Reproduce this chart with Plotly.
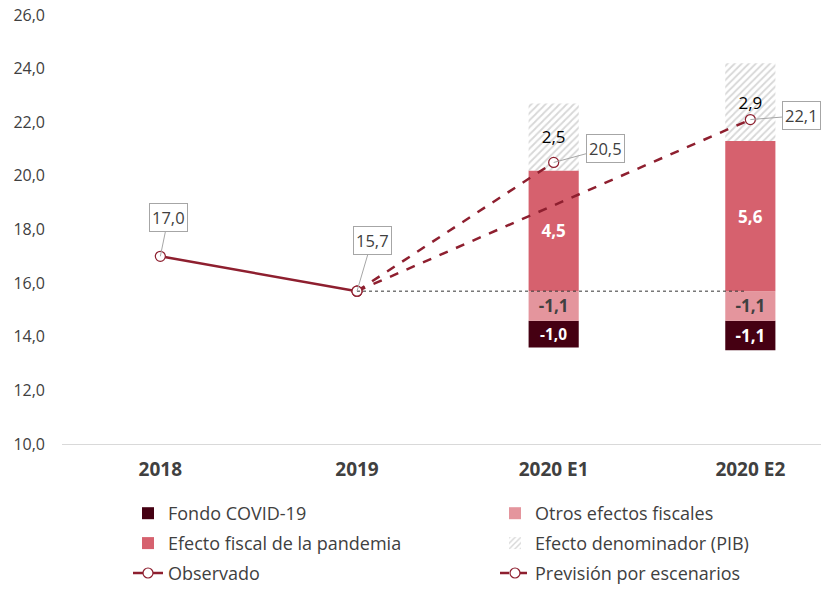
import plotly.graph_objects as go

categories = ["2018", "2019", "2020 E1", "2020 E2"]
observado = [17.0, 15.7]
prevision_e1 = [15.7, 20.5]
prevision_e2 = [15.7, 22.1]
scen = ["2020 E1", "2020 E2"]
fondo_covid = [-1.0, -1.1]
otros_efectos = [-1.1, -1.1]
efecto_pandemia = [4.5, 5.6]
efecto_denominador = [2.5, 2.9]
base_2019 = observado[1]

def fmt(v):
    return f"{v:.1f}".replace(".", ",")

DARK = "#8E1F2F"
FONT = "Open Sans"
GREY = "#404040"
W, H = 821, 581  # page adds an 8px body margin

fig = go.Figure()

otros_base = [base_2019] * len(scen)
fondo_base = [base_2019 + o for o in otros_efectos]
pand_base = [base_2019] * len(scen)
denom_base = [base_2019 + p for p in efecto_pandemia]

bw = 0.255
fig.add_trace(go.Bar(name="Fondo COVID-19", x=scen, y=fondo_covid, base=fondo_base, width=bw,
                     marker=dict(color="#450012", line=dict(width=0)),
                     text=[fmt(v) for v in fondo_covid], textposition="inside", insidetextanchor="middle",
                     textfont=dict(color="white", size=17, family=FONT, weight="bold"),
                     legend="legend", legendgroup="a"))
fig.add_trace(go.Bar(name="Otros efectos fiscales", x=scen, y=otros_efectos, base=otros_base, width=bw,
                     marker=dict(color="#E4959D", line=dict(width=0)),
                     text=[fmt(v) for v in otros_efectos], textposition="inside", insidetextanchor="middle",
                     textfont=dict(color="#404040", size=17, family=FONT, weight="bold"),
                     legend="legend2", legendgroup="b"))
fig.add_trace(go.Bar(name="Efecto fiscal de la pandemia", x=scen, y=efecto_pandemia, base=pand_base, width=bw,
                     marker=dict(color="#D6616E", line=dict(width=0)),
                     text=[fmt(v) for v in efecto_pandemia], textposition="inside", insidetextanchor="middle",
                     textfont=dict(color="white", size=17, family=FONT, weight="bold"),
                     legend="legend", legendgroup="c"))
fig.add_trace(go.Bar(name="Efecto denominador (PIB)", x=scen, y=efecto_denominador, base=denom_base, width=bw,
                     marker=dict(color="white", line=dict(width=0),
                                 pattern=dict(shape="/", fgcolor="#AFAFAF", bgcolor="white", size=5, solidity=0.35)),
                     text=[fmt(v) for v in efecto_denominador], textposition="inside", insidetextanchor="middle",
                     textfont=dict(color="black", size=17, family=FONT),
                     legend="legend2", legendgroup="d"))

fig.add_trace(go.Scatter(name="Observado", x=categories[:2], y=observado, mode="lines+markers",
                         line=dict(color=DARK, width=2.5),
                         marker=dict(symbol="circle", size=10, color="white", line=dict(color=DARK, width=1.2)),
                         legend="legend", legendgroup="e"))
fig.add_trace(go.Scatter(name="Previsión por escenarios",
                         x=["2019", scen[0], None, "2019", scen[1]],
                         y=prevision_e1 + [None] + prevision_e2, mode="lines+markers", connectgaps=False,
                         line=dict(color=DARK, width=2.5, dash="dash"),
                         marker=dict(symbol="circle", size=10, color="white", line=dict(color=DARK, width=1.2)),
                         legend="legend2", legendgroup="f"))

# dotted baseline at 2019 level
fig.add_shape(type="line", xref="x", yref="y", x0=1, x1=2.98, y0=base_2019, y1=base_2019,
              line=dict(color="#333333", width=1, dash="dot"))

# boxed labels (x as category index)
labels = [(0, observado[0], 8, -39), (1, observado[1], 15, -51),
          (2, prevision_e1[1], 52, -14), (3, prevision_e2[1], 51, -4)]
for x, y, ax, ay in labels:
    fig.add_annotation(x=x, y=y, text=fmt(y), showarrow=True, arrowhead=0, arrowwidth=1,
                       arrowcolor="#A6A6A6", ax=ax, ay=ay, bordercolor="#A6A6A6", borderwidth=1,
                       borderpad=2, bgcolor="white", font=dict(size=16.5, color=GREY, family=FONT))

leg_common = dict(orientation="v", xref="container", yref="container", yanchor="top", xanchor="left",
                  font=dict(size=18, color=GREY, family=FONT), tracegroupgap=3.5, itemwidth=30,
                  bgcolor="rgba(0,0,0,0)", traceorder="grouped")

fig.update_layout(
    width=W, height=H,
    barmode="overlay",
    separators=",.",
    plot_bgcolor="white", paper_bgcolor="white",
    margin=dict(l=54, r=0, t=7, b=145, autoexpand=False),
    font=dict(family=FONT, color=GREY),
    xaxis=dict(type="category", categoryorder="array", categoryarray=categories, range=[-0.5, 3.4],
               showgrid=False, showline=True, linecolor="#D9D9D9", linewidth=1, ticks="", automargin=False,
               tickfont=dict(size=19, color=GREY, family=FONT, weight="bold"), ticklabelstandoff=8),
    yaxis=dict(range=[10, 26], dtick=2, tickformat=".1f", showgrid=False, zeroline=False, automargin=False,
               showline=False, tickfont=dict(size=16, color=GREY, family=FONT), ticklabelstandoff=16,
               ticklabeloverflow="allow"),
    legend=dict(x=120 / W, y=(H - 487) / H, **leg_common),
    legend2=dict(x=487 / W, y=(H - 487) / H, **leg_common),
    showlegend=True,
)

fig.write_html("out.html")
